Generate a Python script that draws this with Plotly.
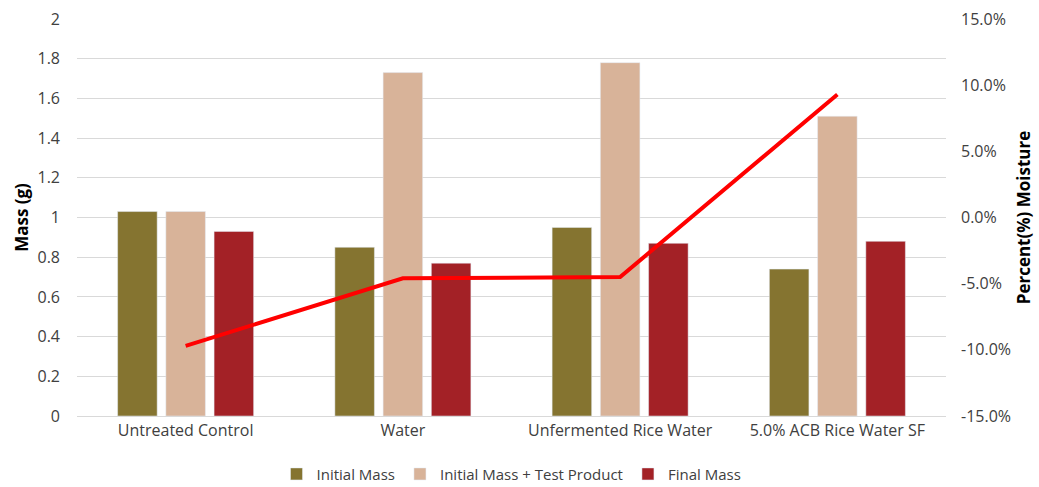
import plotly.graph_objects as go

categories = ["Untreated Control", "Water", "Unfermented Rice Water", "5.0% ACB Rice Water SF"]
initial_mass = [1.03, 0.85, 0.95, 0.74]
initial_plus_test = [1.03, 1.73, 1.78, 1.51]
final_mass = [0.93, 0.77, 0.87, 0.88]
percent_moisture = [-0.097, -0.046, -0.045, 0.093]
pct_tickvals = [-0.15, -0.10, -0.05, 0.0, 0.05, 0.10, 0.15]
pct_ticktext = ["-15.0%", "-10.0%", "-5.0%", "0.0%", "5.0%", "10.0%", "15.0%"]

font_family = "Open Sans, Liberation Sans, sans-serif"

fig = go.Figure()
fig.add_trace(go.Bar(name="Initial Mass", x=categories, y=initial_mass, marker_color="#857430"))
fig.add_trace(go.Bar(name="Initial Mass + Test Product", x=categories, y=initial_plus_test, marker_color="#D8B399"))
fig.add_trace(go.Bar(name="Final Mass", x=categories, y=final_mass, marker_color="#A32126"))
fig.add_trace(go.Scatter(x=categories, y=percent_moisture, yaxis="y2", mode="lines",
                         line=dict(color="#FF0000", width=4), showlegend=False))

fig.update_layout(
    width=1039, height=487,
    margin=dict(l=77, r=93, t=19, b=71, autoexpand=False),
    paper_bgcolor="white", plot_bgcolor="white",
    font=dict(family=font_family, size=16, color="#404040"),
    barmode="group", bargap=0.334, bargroupgap=0.18,
    xaxis=dict(showgrid=False, showline=True, linecolor="#D9D9D9", linewidth=1,
               ticks="", tickfont=dict(size=16, color="#404040")),
    yaxis=dict(range=[0, 2], dtick=0.2, showgrid=True, gridcolor="#D9D9D9", gridwidth=1,
               zeroline=False, tickformat="~g", ticklabelstandoff=16,
               title=dict(text="<b>Mass (g)</b>", font=dict(size=17, color="black"), standoff=4)),
    yaxis2=dict(overlaying="y", side="right", range=[-0.15, 0.15],
                tickvals=pct_tickvals, ticktext=pct_ticktext,
                showgrid=False, zeroline=False, ticklabelstandoff=14,
                title=dict(text="<b>Percent(%) Moisture</b>", font=dict(size=17, color="black"), standoff=8)),
    legend=dict(orientation="h", x=0.5, xanchor="center", y=-0.105, yanchor="top",
                font=dict(size=15, color="#404040"), traceorder="normal"),
)

fig.write_html("out.html")
